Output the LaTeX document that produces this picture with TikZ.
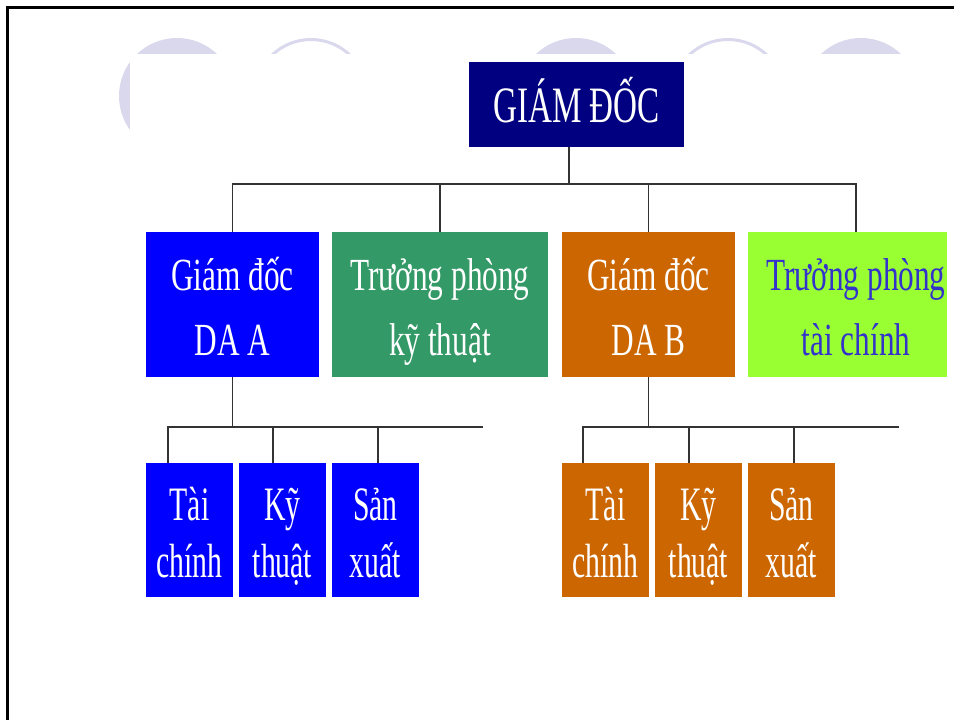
\documentclass[tikz,border=0pt]{standalone}
\usepackage{fontspec}
\newfontfamily\topfont[FakeStretch=0.65]{Liberation Serif}
\newfontfamily\midfont[FakeStretch=0.68]{Liberation Serif}
\newfontfamily\lowfont[FakeStretch=0.62]{Liberation Serif}
\definecolor{deco}{HTML}{D9D8EC}
\definecolor{navy}{HTML}{000080}
\definecolor{projA}{HTML}{0000FF}
\definecolor{techgreen}{HTML}{339966}
\definecolor{projB}{HTML}{CC6600}
\definecolor{lime}{HTML}{99FF33}
\definecolor{limetext}{HTML}{3333CC}
\definecolor{wire}{HTML}{333333}
\begin{document}
\begin{tikzpicture}[x=1pt,y=-1pt,
  box/.style={inner sep=0pt, outer sep=0pt, align=center, text=white},
  lvltop/.style={box, font=\topfont\fontsize{51}{51}\selectfont,
    text height=35pt, text depth=0pt},
  lvlmid/.style={box, minimum height=145pt,
    font=\midfont\fontsize{46}{65}\selectfont, text height=101pt, text depth=0pt},
  lvllow/.style={box, minimum width=87pt, minimum height=134pt,
    font=\lowfont\fontsize{48}{57}\selectfont, text height=94pt, text depth=0pt},
  conn/.style={draw=wire, line width=1.3pt}]
\useasboundingbox (0,0) rectangle (954,720);
\fill[white] (0,0) rectangle (954,720);

% decorative circles behind the chart
\fill[deco] (177,96) circle (58);
\draw[deco, line width=3pt] (311,96) circle (56.5);
\fill[deco] (576,96) circle (58);
\draw[deco, line width=3pt] (728,96) circle (56.5);
\fill[deco] (861,96) circle (58);
\fill[white] (130,54) rectangle (954,720);

% frame
\draw[black, line width=2.6pt] (7.5,720) -- (7.5,7.5) -- (954,7.5);

% top level
\node[lvltop, fill=navy, minimum width=215pt, minimum height=85pt] (gd) at (576.5,104.5) {GIÁM ĐỐC};

% second level
\node[lvlmid, fill=projA, minimum width=173pt] (dA) at (232.5,304.5) {Giám đốc\\DA A};
\node[lvlmid, fill=techgreen, minimum width=216pt] (ptk) at (440,304.5) {Trưởng phòng\\kỹ thuật};
\node[lvlmid, fill=projB, minimum width=173pt] (dB) at (648.5,304.5) {Giám đốc\\DA B};
\node[lvlmid, fill=lime, minimum width=199pt] (ptc) at (847.5,304.5) {};
\node[lvlmid, text=limetext] (ptctext) at (856,304.5) {Trưởng phòng\\tài chính};

% third level, project A
\node[lvllow, fill=projA] (a1) at (189.5,530) {Tài\\chính};
\node[lvllow, fill=projA] (a2) at (282.5,530) {Kỹ\\thuật};
\node[lvllow, fill=projA] (a3) at (375.5,530) {Sản\\xuất};

% third level, project B
\node[lvllow, fill=projB] (b1) at (605.5,530) {Tài\\chính};
\node[lvllow, fill=projB] (b2) at (698.5,530) {Kỹ\\thuật};
\node[lvllow, fill=projB] (b3) at (791.5,530) {Sản\\xuất};

% junction points of the connectors
\coordinate (top) at (569,184);
\coordinate (topend) at (856,184);
\coordinate (barA) at (168,427);
\coordinate (barAend) at (483,427);
\coordinate (barB) at (583,427);
\coordinate (barBend) at (899,427);

% connectors: top level to second level
\draw[conn] (gd.south -| top) -- (top);
\draw[conn] (dA.north) |- (topend) -- (ptc.north -| topend);
\draw[conn] (ptk.north) -- (ptk.north |- topend);
\draw[conn] (dB.north) -- (dB.north |- topend);

% connectors: project A
\draw[conn] (dA.south) -- (dA.south |- barA);
\draw[conn] (a1.north -| barA) -- (barA) -- (barAend);
\draw[conn] (a2.north -| 273,0) -- (273,427);
\draw[conn] (a3.north -| 378,0) -- (378,427);

% connectors: project B
\draw[conn] (dB.south) -- (dB.south |- barB);
\draw[conn] (b1.north -| barB) -- (barB) -- (barBend);
\draw[conn] (b2.north -| 689,0) -- (689,427);
\draw[conn] (b3.north -| 794,0) -- (794,427);
\end{tikzpicture}
\end{document}
